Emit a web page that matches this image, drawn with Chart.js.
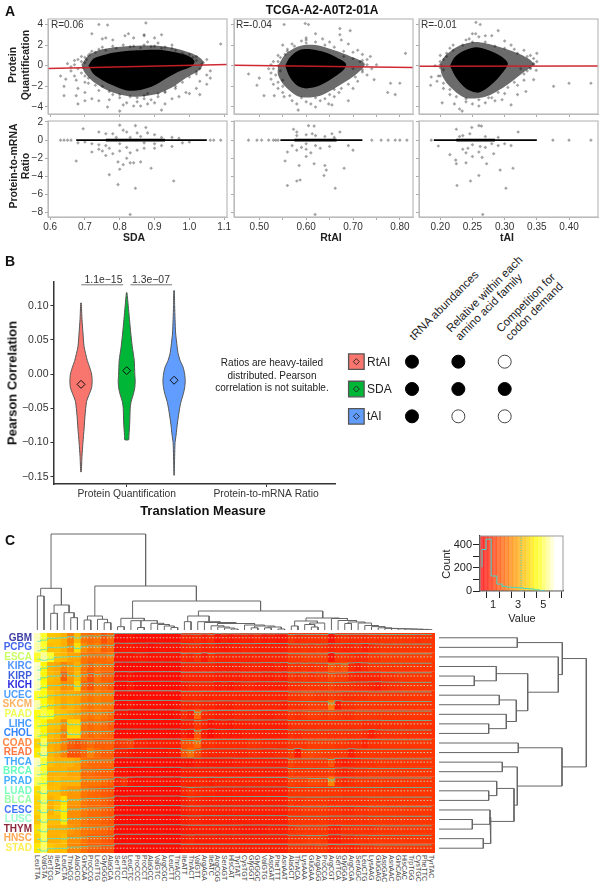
<!DOCTYPE html>
<html>
<head>
<meta charset="utf-8">
<title>TCGA-A2-A0T2-01A</title>
<script src="https://cdn.jsdelivr.net/npm/chart.js@4"></script>
<style>
  html, body { margin: 0; padding: 0; background: #fff; }
  #page { position: relative; width: 600px; height: 886px; overflow: hidden; font-family: "Liberation Sans", Arial, sans-serif; color: #222; }
  #page canvas { position: absolute; }
  .t { position: absolute; white-space: nowrap; line-height: 1; }
</style>
</head>
<body>
<div id="page"></div>
<script>
// panel A, protein quantification: dense cloud outlines and the sparse points around them
const sdaTopCore = [[.71,0],[.725,.7],[.76,1.1],[.8,1.35],[.85,1.5],[.91,1.55],[.96,1.3],[1,.9],[1.015,.4],[1.005,-.1],[.97,-.55],[.94,-1.1],[.9,-1.9],[.86,-2.35],[.82,-2.4],[.78,-1.9],[.75,-1.4],[.725,-.8]];
const sdaTopHaze = [[.69,.1],[.71,1],[.75,1.6],[.82,1.9],[.9,1.95],[.97,1.6],[1.02,1],[1.04,.4],[1.03,-.4],[.99,-1.2],[.95,-2.1],[.9,-2.8],[.84,-3],[.78,-2.6],[.73,-1.7],[.7,-.7]];
const sdaTopPoints = [[.74,4],[.765,3.95],[.875,4.15],[.72,3.1],[.815,2.9],[.825,3.1],[.84,2.7],[.87,2.9],[.92,3],[.87,3],[.9,2.7],[.76,2.7],[.75,2.6],[1.09,2.1],[.95,2],[.88,2.3],[.91,2.2],[.78,2.5],[.8,-4.4],[.92,-4.3],[.765,-4],[.86,-3.9],[.84,-3.9],[.81,-3.8],[.88,-3.7],[.9,-3.6],[.93,-3.7],[.68,-3.7],[.64,-2.9],[.675,-2.9],[.7,-3.4],[.72,-3.2],[.74,-3.4],[.77,-3.3],[.8,-3.1],[.82,-3.6],[.85,-3.5],[.87,-3.2],[.89,-3.3],[.91,-3],[.95,-3.2],[.97,-3],[1,-2.7],[1.03,-2.8],[.99,-2.6],[.74,-2.4],[.7,-2.6],[.68,-2.2],[.64,-2],[.63,-1],[.645,-1.3],[.66,-.5],[.675,-1.4],[.7,-1.6],[.71,-1.2],[1.02,-2.2],[1.05,-1.8],[1.06,-1.2],[1.05,-.9],[1.03,-1.5],[1.02,-.8],[1.06,-.5],[1.04,.3],[1.05,.6],[1.02,.5],[.65,.2],[.67,.1],[.69,.4],[.7,.8],[.68,-.3],[.71,1],[.72,1.4],[.74,1.6],[.75,1.8],[.78,1.9],[.81,2],[.84,1.9],[.87,2],[.9,1.9],[.93,1.8],[.96,1.5],[.98,1.2],[1,1.1],[1.01,.8],[.75,-2],[.78,-2.8],[.83,-3],[.88,-2.7],[.93,-2.5],[.96,-2.2],[.7,.3],[.695,-.2],[.705,.6],[.715,1.15],[.73,1.3],[.76,1.5],[.79,1.7],[.83,1.85],[.86,1.75],[.89,1.85],[.92,1.7],[.95,1.7],[.985,1],[1.02,.9],[1.035,.15],[1.03,-.3],[1.02,-.6],[1,-1.1],[.98,-1.6],[.96,-2],[.93,-2.6],[.91,-2.7],[.87,-2.9],[.85,-3.1],[.8,-2.8],[.77,-2.5],[.73,-1.9],[.71,-1.7],[.7,-1],[.69,-.7],[.69,.9],[.68,.6],[.67,.5],[.66,-.1],[.67,-1]];
const rtaiTopCore = [[.555,0],[.565,.8],[.585,1.5],[.61,1.6],[.64,1.3],[.665,.8],[.685,.2],[.68,-.4],[.66,-1.1],[.63,-1.9],[.6,-2.2],[.58,-1.9],[.565,-1.1]];
const rtaiTopHaze = [[.54,0],[.555,1.1],[.585,1.9],[.62,2],[.66,1.5],[.695,.9],[.725,.2],[.71,-.7],[.675,-1.8],[.63,-2.9],[.585,-3],[.555,-2],[.54,-.9]];
const rtaiTopPoints = [[.553,4],[.598,4.1],[.605,4],[.672,3.6],[.694,3.4],[.672,3],[.62,3.1],[.812,1.2],[.737,.9],[.71,1.5],[.69,2.1],[.675,2.5],[.774,-2.6],[.79,-2.8],[.8,-1.7],[.78,-1.7],[.745,-1.35],[.69,-3.4],[.655,-3.8],[.648,-3.7],[.61,-3.7],[.583,-4.3],[.477,-.8],[.51,-2.9],[.495,-1.9],[.5,-1.2],[.532,-2.9],[.553,-3],[.525,-1.3],[.54,0],[.52,-.3],[.55,2],[.57,2.1],[.54,1],[.55,-1.4],[.6,2.7],[.59,2.4],[.635,2.6],[.65,2.3],[.7,1.3],[.72,1.1],[.73,.6],[.75,.1],[.74,-.3],[.73,-.9],[.71,-1.5],[.7,-2.2],[.67,-2.6],[.66,-3],[.63,-3.4],[.6,-3.5],[.57,-3.4],[.55,-2.6],[.54,-2.2],[.53,-1.8],[.525,-.7],[.53,.4],[.56,1.6],[.58,-3.7],[.62,-4],[.64,-3.2],[.715,.4],[.72,-.4],[.525,.1],[.54,.4],[.545,.8],[.56,1.4],[.575,1.9],[.6,2.2],[.62,2.3],[.64,2],[.66,1.8],[.68,1.4],[.7,.7],[.72,.5],[.73,.1],[.72,-.6],[.705,-1.1],[.69,-1.8],[.675,-2.2],[.65,-2.8],[.62,-3.1],[.59,-3.1],[.565,-2.9],[.55,-2],[.54,-1.6],[.535,-.9],[.53,-.3],[.545,-.5],[.555,1.1],[.66,-2.3],[.6,2.5],[.68,.9],[.7,-.3]];
const taiTopCore = [[.215,0],[.222,.8],[.235,1.4],[.255,1.8],[.275,1.5],[.295,.9],[.305,.2],[.295,-.8],[.28,-1.8],[.26,-2.6],[.24,-2.2],[.225,-1.2]];
const taiTopHaze = [[.2,.2],[.208,1],[.228,1.9],[.255,2.3],[.288,1.9],[.325,1.1],[.345,.2],[.33,-.6],[.298,-2.1],[.27,-3],[.238,-3.1],[.213,-1.9],[.202,-.8]];
const taiTopPoints = [[.2555,4.2],[.262,4],[.29,3.4],[.25,3.1],[.255,3.1],[.27,2.9],[.28,2.9],[.245,2.6],[.24,2.5],[.35,1.2],[.345,.7],[.34,-.3],[.349,-.45],[.345,-1.35],[.376,-2],[.4,-1.7],[.434,-1.7],[.333,-2.5],[.31,-3.8],[.296,-3.3],[.285,-3.4],[.234,-4.4],[.23,-4.2],[.222,-3.7],[.203,-3.6],[.185,-1.9],[.192,0],[.186,-1.1],[.197,-1],[.2,.4],[.21,1.2],[.22,2],[.3,2.4],[.31,2],[.26,2.8],[.33,1.5],[.34,1],[.35,.4],[.33,-1.4],[.32,-1.9],[.3,-2.7],[.27,-3.6],[.25,-3.7],[.24,-3.5],[.215,-2.8],[.205,-2.2],[.195,-1.5],[.2,1],[.215,1.7],[.32,-2.8],[.26,-3.9],[.28,-3.1],[.345,.2],[.335,-.5],[.2,.1],[.205,.6],[.21,.9],[.22,1.5],[.235,2],[.25,2.3],[.27,2.3],[.285,1.9],[.3,1.7],[.32,1.2],[.335,.9],[.345,.1],[.34,-.2],[.33,-.8],[.315,-1.6],[.305,-2.1],[.29,-2.6],[.275,-3.1],[.26,-3.3],[.24,-3.2],[.225,-3],[.215,-2.3],[.205,-1.7],[.2,-1],[.205,-.4],[.2,-.2],[.315,1.6],[.325,-.3]];

// panel A, protein-to-mRNA ratio: most genes sit on zero, the rest are single points
const sdaZeroRun = [[.675,0],[1.05,0]];
const sdaZeroDense = [[.76,0],[.93,0]];
const sdaBottomPoints = [[.695,1.25],[.8,1.65],[.845,1.6],[.875,1.4],[.81,1.1],[.82,.9],[.74,.9],[.76,.7],[.78,.7],[.85,.8],[.88,.8],[.9,.6],[.92,.3],[.95,.3],[.97,.2],[.68,-.3],[.7,-.2],[.72,-.4],[.74,-.5],[.76,-.6],[.77,-.9],[.75,-1.2],[.72,-1.3],[.74,-1],[.78,-1.5],[.76,-1.7],[.8,-1.2],[.82,-.8],[.83,-1.4],[.85,-1.1],[.87,-.9],[.9,-.9],[.92,-.6],[.95,-.7],[.82,-2],[.83,-2.5],[.84,-2.5],[.81,-2.7],[.86,-2.4],[.795,-2.4],[.8,-3.2],[.89,-3.1],[.77,-3.8],[.795,-4.9],[.955,-4.5],[.845,-5.3],[.83,-8.2],[.675,-2.3],[.64,0],[.63,0],[.65,0],[.66,0],[1.06,0],[1.07,0],[1.09,0],[.98,-.3],[1,-.2],[.79,.3],[.83,.3],[.86,.4],[.8,-.4],[.87,-.3],[.9,-.4]];
const rtaiZeroRun = [[.545,0],[.72,0]];
const rtaiZeroDense = [[.575,0],[.665,0]];
const rtaiBottomPoints = [[.477,0],[.495,0],[.505,0],[.52,0],[.53,0],[.535,0],[.54,0],[.573,1.2],[.58,.9],[.56,-1.3],[.555,-2.3],[.56,-5],[.58,-4.5],[.585,-2.8],[.605,1.6],[.617,1.55],[.613,.7],[.672,.9],[.655,.7],[.638,-3.9],[.643,-3.3],[.64,-2.8],[.681,-3.1],[.662,-5.3],[.619,-8.2],[.617,-2.6],[.6,-1.8],[.587,-4.4],[.7,-1.1],[.69,-.6],[.76,0],[.775,0],[.79,0],[.8,0],[.815,0],[.74,0],[.6,-.4],[.62,-.6],[.6,-1],[.59,-.8],[.63,-.9],[.65,-.7],[.61,-1.4],[.57,-.6],[.58,-1.1],[.64,.4],[.62,.5],[.6,.6],[.66,.3],[.58,.5]];
const taiZeroRun = [[.19,0],[.35,0]];
const taiZeroDense = [[.225,0],[.285,0]];
const taiBottomPoints = [[.225,1.2],[.249,1.4],[.26,1.6],[.264,1.55],[.321,.9],[.246,.7],[.23,.4],[.215,-1.6],[.197,-.65],[.225,-2.6],[.24,-2.5],[.224,-2.2],[.26,-3.9],[.226,-5],[.247,-4.5],[.293,-3.3],[.313,-3.1],[.302,-5.3],[.266,-8.2],[.272,-2.6],[.25,-1.8],[.26,-1.3],[.283,-1.5],[.243,-.9],[.262,-.7],[.29,-.6],[.31,-.6],[.186,0],[.375,0],[.4,0],[.434,0],[.235,-1],[.25,-.5],[.27,-.8],[.28,-.4],[.3,-.4],[.235,.5],[.27,.4],[.29,.3],[.24,-1.4],[.265,-1.9]];

const sdaFit = [[.594,-.27],[1.108,.12]];
const rtaiFit = [[.446,.05],[.828,-.17]];
const taiFit = [[.167,-.04],[.445,-.02]];

const sdaTicks = [.6,.7,.8,.9,1,1.1];
const sdaLabelled = [.6,.7,.8,.9,1,1.1];
const rtaiTicks = [.5,.55,.6,.65,.7,.75,.8];
const rtaiLabelled = [.5,.6,.7,.8];
const taiTicks = [.2,.25,.3,.35,.4];
const taiLabelled = [.2,.25,.3,.35,.4];
const quantTicks = [-4,-2,0,2,4];
const ratioTicks = [-8,-6,-4,-2,0,2];

// panel B, violins: y levels and half widths along the category axis
const rtaiLevels = [.104,.08,.06,.04,.02,.01,0,-.01,-.02,-.03,-.04,-.06,-.08,-.1,-.12,-.143];
const rtaiWidths = [.002,.007,.014,.022,.045,.062,.076,.08,.076,.058,.04,.029,.022,.014,.007,.002];
const sdaLevels = [.119,.1,.08,.06,.04,.02,0,-.01,-.02,-.03,-.04,-.05,-.07,-.09,-.096];
const sdaWidths = [.002,.011,.02,.029,.04,.054,.058,.061,.058,.047,.032,.025,.022,.016,.014];
const taiLevels = [.122,.1,.08,.06,.04,.03,.02,.01,0,-.01,-.02,-.03,-.04,-.05,-.07,-.09,-.1,-.12,-.148];
const taiWidths = [.002,.004,.007,.011,.022,.029,.043,.065,.076,.08,.076,.065,.05,.04,.025,.014,.007,.004,.001];
const violinNames = ["RtAI","SDA","tAI"];
const violinColors = ["#F8766D","#00B636","#619CFF"];
const violinCentres = [.672,1,1.34];
const violinMeans = [-.015,.005,-.009];
const pearsonTicks = [-.15,-.1,-.05,0,.05,.1];
const measureNames = ["Protein Quantification","Protein-to-mRNA Ratio"];
const bracketRuns = [[[.674,.1305],[.974,.1305]],[[1.027,.1305],[1.325,.1305]]];

// panel B, table of index properties (1 = has it)
const rtaiFlags = [1,1,0];
const sdaFlags = [1,1,1];
const taiFlags = [1,0,0];

// panel C
const tumours = ["GBM","PCPG","ESCA","KIRC","KIRP","KICH","UCEC","SKCM","PAAD","LIHC","CHOL","COAD","READ","THCA","BRCA","PRAD","LUAD","BLCA","CESC","LUSC","THYM","HNSC","STAD"];
const tumourColors = ["#3C3CA6","#4466EE","#CCFF66","#4D94FF","#3D5DDD","#2A2AE0","#4D9FFF","#FFB060","#EEFF55","#4499FF","#3385FF","#FF8844","#FF7744","#44AAFF","#66FFBB","#44B0FF","#77FFBB","#99FFAA","#4477FF","#99FFCC","#8B2A3A","#FFAA55","#FFEE55"];
const codons = ["LeuTTA","ValGTA","SerTCG","IleATA","LeuCTA","ThrACG","AlaGCG","GlnCAA","ProCCG","LeuTTG","GlyGGG","AlaGCA","SerTCC","SerTCT","LeuCTC","ProCCC","ProCCT","AlaGCC","ValGTC","ArgCGC","LeuCTT","ThrACC","IleATT","ThrACT","ValGTT","ArgAGA","IleATC","ArgCGG","SerAGT","HisCAT","TyrTAT","CysTGT","GlyGGT","GlyGGC","ValGTG","AspGAT","PheTTT","AsnAAT","AlaGCT","ThrACA","LysAAA","GluGAA","ArgAGG","ProCCA","ArgCGT","SerTCA","GlyGGA","ArgCGA","SerAGC","LeuCTG","LysAAG","GluGAG","AspGAC","AsnAAC","GlnCAG","HisCAC","TrpTGG","CysTGC","PheTTC","TyrTAC"];
const heatRows = [
  [5.6,4.8,3.6,3.5,3.2,2.4,3.4,2.2,2.0,2.2,1.6,2.0, .4,.4,.5,.4,.4,.4,.4,.4,.4,.4, .8,.8,.9,.7,.9,.5,.7,.6,.7,.8,.7,.8,.6,.7,.6,.6, 1.1,.9,1.0,1.0,1.0,1.1,.5,.9,1.0,.9,.9,.9,1.0,1.0,1.1,1.1,1.1,1.1,1.1,1.0,1.1,1.1],
  [5.5,4.8,3.4,3.5,3.2,2.6,4.0,2.6,2.2,2.4,1.8,2.0, .5,.6,.6,.5,.5,.4,.5,.5,.5,.5, .8,.9,.9,.7,.8,.7,.6,.7,.7,.8,.8,.7,.7,.7,.7,.7, 1.0,1.0,1.1,1.0,1.1,1.0,.8,.9,.8,.8,.9,.7,.9,1.0,1.1,1.1,1.1,1.1,1.1,1.1,1.1,1.1],
  [4.8,5.4,4.8,3.5,3.3,3.0,3.0,2.2,2.0,2.0,2.0,2.2, .5,.5,.5,.6,.6,.5,.5,.5,.5,.5, .9,.8,1.0,.6,1.0,.8,.8,.8,.8,.8,.8,.8,.8,.8,.8,.8, 1.1,1.1,1.2,1.2,1.2,1.2,.5,1.1,1.1,1.0,.9,.9,1.1,1.1,1.2,1.2,1.2,1.2,1.2,1.2,1.2,1.2],
  [5.7,4.4,3.2,3.0,2.4,2.8,3.2,2.2,1.8,2.2,2.0,2.0, .4,.4,.4,.4,.4,.4,.4,.4,.4,.4, .8,.8,.8,.8,.8,.7,.7,.7,.7,.8,.8,.8,.7,.7,.8,.7, 1.1,1.0,1.1,1.0,1.1,1.1,1.6,1.4,1.6,.9,.7,.9,1.1,1.1,1.1,1.1,1.1,1.1,1.1,1.1,1.1,1.1],
  [5.7,4.4,3.4,3.2,1.8,2.8,3.4,2.2,1.6,2.2,1.8,1.8, .4,.4,.5,.4,.4,.4,.4,.4,.4,.4, .8,.8,.8,.8,.8,.7,.7,.7,.7,.8,.8,.8,.7,.7,.8,.7, 1.1,1.0,1.1,1.0,1.1,1.1,1.4,1.2,1.2,.9,.8,.8,.8,.8,1.0,1.0,1.1,1.1,1.1,1.1,1.1,1.1],
  [5.6,4.6,3.3,3.2,2.6,2.8,3.8,2.0,1.6,2.2,2.0,1.8, .4,.4,.6,.4,.4,.4,.4,.4,.4,.4, .7,.8,.8,.8,.8,.6,.7,.6,.7,.8,.8,.7,.7,.7,.7,.7, 1.0,1.0,1.1,1.1,1.1,1.1,1.3,1.1,1.1,1.0,.9,.9,.8,.7,.9,1.0,1.0,1.1,1.1,1.1,1.1,1.1],
  [4.8,4.6,3.6,3.3,3.0,3.1,3.0,2.4,2.2,2.4,2.2,2.2, .4,.4,.4,.4,.4,.4,.4,.4,.4,.4, .9,.9,.9,.8,.8,.8,.8,.8,.8,.8,.8,.8,.8,.8,.8,.8, 1.1,1.1,1.2,1.2,1.1,1.1,1.2,1.1,1.0,1.0,1.0,1.0,1.1,1.1,1.1,1.1,1.1,1.1,1.1,1.1,1.1,1.1],
  [5.5,4.6,3.8,3.4,3.0,3.2,3.0,2.4,2.2,2.4,2.2,2.2, .4,.4,.5,.4,.4,.4,.4,.4,.4,.5, .8,.8,.9,.8,.8,.7,.7,.7,.8,.8,.8,.8,.8,.8,.8,.7, 1.0,1.0,1.1,1.2,1.2,1.2,2.2,.6,1.0,1.0,1.1,1.1,1.1,1.1,1.1,1.1,1.1,1.1,1.1,1.1,1.1,1.1],
  [4.6,4.9,4.6,3.6,3.4,3.2,3.0,2.4,2.2,2.4,2.2,2.0, .5,.5,.4,.4,.4,.4,.4,.4,.4,.5, .9,.7,1.9,.9,.8,.7,.7,.7,.8,.8,.8,.8,.7,.7,.8,.8, 1.1,1.0,1.1,1.2,1.2,1.1,1.2,1.1,1.0,1.0,1.1,1.1,1.1,1.1,1.1,1.1,1.1,1.1,1.1,1.1,1.1,1.1],
  [4.8,4.4,3.5,3.4,2.6,3.8,3.8,2.2,2.0,2.2,2.0,1.8, .4,.4,.4,.4,.4,.4,.4,.4,.4,.4, .7,.7,1.1,.8,.5,.6,.7,.6,.7,.7,.7,.7,.7,.7,.7,.7, 1.0,1.0,1.0,1.0,1.0,1.0,1.0,1.0,1.0,1.0,1.0,.9,.9,.9,1.0,1.0,1.0,1.0,1.0,1.0,1.0,1.0],
  [5.0,4.4,3.4,3.2,2.4,3.9,3.9,2.2,2.0,2.2,2.0,1.9, .4,.4,.4,.4,.4,.4,.4,.4,.4,.4, .7,.5,1.6,.7,.4,.6,.7,.6,.6,.7,.7,.7,.7,.7,.7,.7, 1.0,.9,1.0,1.0,1.0,1.0,1.0,1.0,1.0,1.0,1.0,.9,.7,.9,1.0,1.0,1.0,1.0,1.0,1.0,1.0,1.0],
  [3.8,5.0,3.2,3.0,2.4,1.8,1.6,1.8,2.0,1.8,1.8,1.8, 1.1,1.2,1.3,.8,.8,.7,.7,.7,.7,.7, 1.5,1.6,2.0,1.0,1.0,.9,.9,.9,.9,.9,1.0,1.0,.9,.9,.9,.9, 1.1,1.1,1.1,1.2,1.2,1.2,1.2,1.1,1.1,1.0,1.0,.8,1.0,1.0,1.1,1.1,1.1,1.1,1.1,1.1,1.1,1.1],
  [4.2,5.2,3.3,3.0,2.4,1.6,1.6,1.9,2.4,2.0,1.8,1.8, .7,.7,.6,.5,.5,.5,.5,.5,.6,.6, 1.6,2.0,1.4,.9,.8,.8,.8,.8,.8,.8,.9,.9,.8,.8,.9,.9, 1.2,.6,1.3,1.4,1.3,1.2,1.2,1.1,1.1,.7,1.0,1.1,1.1,1.1,1.1,1.1,1.1,1.1,1.1,1.1,1.1,1.1],
  [5.6,4.8,3.4,3.2,3.2,3.2,3.0,2.2,2.0,2.0,1.9,1.9, .4,.4,.4,.4,.4,.4,.4,.4,.4,.4, .5,.5,.7,.6,.6,.6,.6,.6,.7,.7,.7,.7,.7,.7,.7,.7, 1.3,1.1,1.1,1.1,1.1,1.1,1.5,.8,.7,.8,.9,1.0,1.0,1.1,1.1,1.1,1.1,1.1,1.1,1.1,1.1,1.1],
  [5.3,4.8,3.2,3.2,3.2,3.0,3.0,2.0,2.0,1.9,1.8,1.8, .5,.5,.4,.4,.4,.4,.4,.4,.4,.4, .7,.7,.7,.7,.7,.7,.7,.7,.7,.7,.7,.7,.7,.7,.7,.7, 1.2,1.1,1.1,1.1,1.1,1.1,1.2,.9,.8,.9,1.0,1.0,1.1,1.1,1.1,1.1,1.1,1.1,1.1,1.1,1.1,1.1],
  [5.0,4.8,3.3,3.4,3.2,3.2,3.2,2.2,2.2,2.2,2.0,1.8, .8,1.0,.6,.5,.5,.5,.5,.5,.5,.5, .8,.8,.8,.8,.7,.8,.8,.8,.8,.8,.8,.8,.8,.8,.8,.8, 1.3,1.2,1.2,1.4,1.4,1.3,2.4,1.0,.9,1.0,1.1,1.1,1.1,1.1,1.1,1.1,1.1,1.1,1.1,1.1,1.1,1.1],
  [4.0,5.0,3.4,3.4,3.0,2.8,2.8,2.2,2.0,1.9,1.7,1.6, .4,.4,.4,.4,.4,.4,.4,.4,.4,.4, .8,1.0,.9,.8,.8,.7,.7,.7,.7,.7,.7,.7,.7,.7,.7,.7, 1.1,1.1,1.1,1.1,1.1,1.1,1.1,1.1,1.0,1.0,1.0,1.1,1.1,1.1,1.1,1.1,1.1,1.1,1.1,1.1,1.1,1.1],
  [3.8,5.0,3.2,3.4,4.0,2.8,2.8,2.2,2.0,2.0,1.8,1.6, .4,.5,.4,.4,.4,.4,.4,.4,.4,.4, .7,.9,.8,.7,.7,.7,.7,.7,.7,.7,.7,.7,.7,.7,.7,.7, 1.1,1.0,1.1,1.1,1.1,1.1,1.0,1.0,1.0,1.0,1.0,1.0,1.1,1.1,1.1,1.1,1.1,1.1,1.1,1.1,1.1,1.1],
  [3.8,5.0,3.2,3.6,4.2,2.6,2.6,2.2,2.0,2.0,1.8,1.7, .4,.4,.4,.4,.4,.4,.4,.4,.4,.4, .7,.8,.8,.7,.7,.7,.7,.7,.7,.7,.7,.7,.7,.7,.7,.7, 1.0,1.0,1.1,1.1,1.1,1.1,1.0,1.0,.9,.9,1.0,1.0,1.1,1.1,1.1,1.1,1.1,1.1,1.1,1.1,1.1,1.1],
  [3.6,5.0,3.4,3.4,4.2,2.6,2.6,2.2,2.0,2.0,1.8,1.7, .4,.4,.4,.4,.4,.4,.4,.4,.4,.4, .7,.8,.8,.7,.7,.7,.7,.7,.7,.7,.7,.7,.7,.7,.7,.7, 1.1,1.1,1.1,1.1,1.1,1.1,1.0,1.0,1.0,1.0,1.0,1.0,1.1,1.1,1.1,1.1,1.1,1.1,1.1,1.1,1.1,1.1],
  [4.0,5.0,3.2,3.2,3.2,2.8,2.6,2.2,2.1,2.0,1.9,1.7, .4,.4,.4,.4,.4,.4,.4,.4,.4,.4, .6,.7,.7,.7,.7,.7,.7,.7,.7,.6,.6,.6,.6,.7,.7,.7, 1.0,1.1,1.1,1.1,1.1,1.1,.8,.8,1.0,1.0,1.0,1.0,1.0,1.1,1.1,1.1,1.1,1.1,1.1,1.1,1.1,1.1],
  [3.8,5.0,3.2,3.2,3.4,2.6,2.6,2.2,1.9,1.9,1.7,1.6, .4,.4,.4,.4,.4,.4,.4,.4,.4,.4, .7,.8,.7,.7,.7,.7,.7,.7,.7,.7,.7,.7,.7,.7,.7,.7, 1.0,1.0,1.1,1.2,1.2,1.1,.7,.7,.9,.9,1.0,1.0,1.1,1.1,1.1,1.1,1.1,1.1,1.1,1.1,1.1,1.1],
  [4.2,5.1,3.6,3.4,3.4,2.5,2.5,2.1,1.8,1.8,1.6,1.6, .4,.4,.4,.4,.4,.4,.4,.4,.4,.4, .7,.7,.7,.7,.7,.7,.7,.7,.7,.7,.7,.7,.7,.7,.7,.7, 1.0,1.0,1.0,1.0,1.1,1.1,.8,.9,.9,.8,.9,1.0,1.0,1.1,1.1,1.1,1.1,1.1,1.1,1.1,1.1,1.1]
];
const heatFloor = .2;
const heatCeil = 6;
const traceFloor = .1;
const traceCeil = 6.4;
const medianBreak = 3.24;

// colour key and histogram
const keyBands = [.1,.43,.76,1.09,1.42,1.75,2.08,2.41,2.74,3.07,3.4,3.73,4.06,4.39,4.72,5.05,5.38,5.71,6.04,6.37];
const keyHeight = 477;
const histBreaks = [.12,.44,.85,1.3,1.72,2.12,2.55,2.98,3.41,3.84,4.27,4.7,5.13];
const histCounts = [205,360,450,130,60,40,33,30,28,22,18,10,5];
const histTicks = [1,2,3,4,5,6];
const histLabelled = [1,3,5];
const countTicks = [0,100,200,300,400];
const countLabelled = [0,200,400];

// dendrograms: [first child position, its height, second child position, its height, merge height]
const columnTree = [[0,0,1,0,34],[2,0,3,0,16.7],[5,0,6,0,12.3],[4,0,5.5,12.3,17.3],[2.5,16.7,4.75,17.3,25],[.5,34,3.6,25,41.7],
  [7,0,8,0,10],[10,0,11,0,7.3],[9,0,10.5,7.3,10.7],[7.5,10,9.75,10.7,14],
  [12,0,13,0,3.3],[15,0,16,0,2.5],[20,0,21,0,2.5],[19,0,20.5,2.5,4],[18,0,19.75,4,5.5],[17,0,18.9,5.5,6.7],[14,0,17.95,6.7,9.3],[15.5,2.5,15.5,2.5,9.3],[12.5,3.3,16,9.3,11.7],
  [22,0,23,0,8.3],[29,0,30,0,1],[28,0,29.5,1,2],[27,0,28.75,2,3],[26,0,27.9,3,4.2],[32,0,33,0,2.2],[34,0,35,0,2.2],[36,0,37,0,1],[34.5,2.2,36.5,1,3],[32.5,2.2,35.5,3,4],[31,0,34,4,5],[26.95,4.2,32.5,5,6.5],[25,0,29.7,6.5,7.5],[24,0,27.35,7.5,8.3],[22.5,8.3,25.7,8.3,14],
  [58,0,59,0,.4],[57,0,58.5,.4,.6],[56,0,57.75,.6,.8],[55,0,56.9,.8,1],[54,0,55.9,1,1.2],[53,0,55,1.2,1.4],[52,0,54,1.4,1.6],[51,0,53,1.6,2.2],[50,0,52,2.2,3.4],[49,0,51,3.4,4.5],[48,0,50,4.5,7],[46,0,47,0,6.5],[46.5,6.5,49,7,8],[45,0,47.75,8,9.5],[44,0,46.4,9.5,11.5],
  [38,0,39,0,4],[41,0,42,0,3],[40,0,41.5,3,5.5],[43,0,40.75,5.5,7],[38.5,4,41.9,7,9],[40.2,9,45.2,11.5,12],
  [24.1,14,42.7,12,19],[14.25,11.7,33.4,19,29],[8.6,14,23.8,29,44],[2.05,41.7,16.2,44,96]];
const rowTree = [[0,0,1,0,78.3],[4,0,5,0,35.3],[3,0,4.5,35.3,57.3],[6,0,7,0,60.3],[9,0,10,0,49.7],[8,0,9.5,49.7,67.3],[6.5,60.3,8.75,67.3,77.3],[3.75,57.3,7.63,77.3,88.7],[2,0,5.69,88.7,119.3],[.5,78.3,3.85,119.3,123.3],
  [11,0,12,0,79.3],[13,0,14,0,63.3],[16,0,17,0,49.7],[15,0,16.5,49.7,57.7],[19,0,20,0,33.3],[21,0,22,0,44.3],[18,0,19.5,33.3,51],[18.75,51,21.5,44.3,51.7],[15.75,57.7,19.2,51.7,75],[13.5,63.3,17.5,75,78.3],[11.5,79.3,15.5,78.3,123],[2.17,123.3,13.5,123,147.3]];

Chart.defaults.font.family = '"Liberation Sans", Arial, sans-serif';
Chart.defaults.color = "#333";
Chart.defaults.animation = false;
Chart.defaults.responsive = false;
Chart.defaults.plugins.legend.display = false;
Chart.defaults.plugins.tooltip.enabled = false;

const page = document.getElementById("page");

const addText = (text, x, y, css) => {
  const el = document.createElement("div");
  el.className = "t";
  el.textContent = text;
  el.style.cssText = "left:" + x + "px;top:" + y + "px;" + (css || "");
  page.appendChild(el);
  return el;
};
// centred on x,y
const centreText = (text, x, y, css, rot) => addText(text, x, y, "transform:translate(-50%,-50%)" + (rot ? " rotate(" + rot + "deg);" : ";") + (css || ""));

// plot area is kept exactly at rect, the margins only hold ticks and labels
const place = (rect, margin, config) => {
  const cv = document.createElement("canvas");
  cv.width = rect.w + margin.l + margin.r;
  cv.height = rect.h + margin.t + margin.b;
  cv.style.left = rect.x - margin.l + "px";
  cv.style.top = rect.y - margin.t + "px";
  page.appendChild(cv);
  config.options.layout = { autoPadding: false, padding: { top: margin.t, right: margin.r, left: 0, bottom: 0 } };
  return new Chart(cv, config);
};

const fixWidth = w => s => { s.width = w; s.paddingTop = 0; s.paddingBottom = 0; s.paddingLeft = 0; s.paddingRight = 0; };
const fixHeight = h => s => { s.height = h; s.paddingTop = 0; s.paddingBottom = 0; s.paddingLeft = 0; s.paddingRight = 0; };
const setTicks = list => s => { s.ticks = list.map(v => ({ value: v })); };

const frame = (color, width) => ({
  id: "frame",
  afterDatasetsDraw(chart) {
    const a = chart.chartArea, ctx = chart.ctx;
    ctx.save();
    ctx.strokeStyle = color;
    ctx.lineWidth = width;
    ctx.strokeRect(a.left, a.top, a.right - a.left, a.bottom - a.top);
    ctx.restore();
  }
});

const toXY = pairs => pairs.map(p => ({ x: p[0], y: p[1] }));
const polygon = (pairs, color) => ({ data: toXY(pairs.concat([pairs[0]])), showLine: true, fill: "shape", backgroundColor: color, borderColor: color, borderWidth: 0, pointRadius: 0, tension: .3 });
const dots = (pairs) => ({ data: toXY(pairs), pointStyle: "rectRot", pointRadius: 1.8, pointBackgroundColor: "rgba(0,0,0,.36)", pointBorderWidth: 0 });
const segment = (pairs, color, w) => ({ data: toXY(pairs), showLine: true, borderColor: color, borderWidth: w, pointRadius: 0 });

// the first dataset in the list ends up on top
const scatterPanel = (rect, margin, xr, yr, xTicks, xLab, yTicks, showX, showY, decimals, sets) => place(rect, margin, {
  type: "scatter",
  data: { datasets: sets },
  options: {
    scales: {
      x: {
        type: "linear", min: xr[0], max: xr[1], afterBuildTicks: setTicks(xTicks), afterFit: fixHeight(margin.b),
        grid: { drawOnChartArea: false, tickLength: 3, color: "#aaa" }, border: { color: "#bbb" },
        ticks: { display: showX, autoSkip: false, maxRotation: 0, padding: 1, font: { size: 10 }, callback: v => xLab.includes(v) ? v.toFixed(decimals) : "" }
      },
      y: {
        type: "linear", min: yr[0], max: yr[1], afterBuildTicks: setTicks(yTicks), afterFit: fixWidth(margin.l),
        grid: { drawOnChartArea: false, tickLength: 3, color: "#aaa" }, border: { color: "#bbb" },
        ticks: { display: showY, autoSkip: false, padding: 2, font: { size: 10 }, callback: v => String(v).replace("-", "\u2212") }
      }
    }
  },
  plugins: [frame("#bbb", 1.2)]
});

// panel A
const topY = [-4.68, 4.53], botY = [-8.47, 2.11];
const sdaX = [.594, 1.108], rtaiX = [.446, .828], taiX = [.167, .445];
const red = "rgba(204,30,40,.95)";
const hazeGrey = "rgba(0,0,0,.58)";
scatterPanel({ x: 48, y: 18.5, w: 179, h: 95.5 }, { l: 48, r: 3, t: 6, b: 4 }, sdaX, topY, sdaTicks, sdaLabelled, quantTicks, false, true, 1,
  [segment(sdaFit, red, 1.5), dots(sdaTopPoints), polygon(sdaTopCore, "#000"), polygon(sdaTopHaze, hazeGrey)]);
scatterPanel({ x: 233.5, y: 18.5, w: 179.5, h: 95.5 }, { l: 5, r: 3, t: 6, b: 4 }, rtaiX, topY, rtaiTicks, rtaiLabelled, quantTicks, false, false, 2,
  [segment(rtaiFit, red, 1.5), dots(rtaiTopPoints), polygon(rtaiTopCore, "#000"), polygon(rtaiTopHaze, hazeGrey)]);
scatterPanel({ x: 419, y: 18.5, w: 179, h: 95.5 }, { l: 5, r: 2, t: 6, b: 4 }, taiX, topY, taiTicks, taiLabelled, quantTicks, false, false, 2,
  [segment(taiFit, red, 1.5), dots(taiTopPoints), polygon(taiTopCore, "#000"), polygon(taiTopHaze, hazeGrey)]);
scatterPanel({ x: 48, y: 121, w: 179, h: 96 }, { l: 48, r: 6, t: 6, b: 16 }, sdaX, botY, sdaTicks, sdaLabelled, ratioTicks, true, true, 1,
  [segment(sdaZeroDense, "#000", 2.6), segment(sdaZeroRun, "#000", 1.6), dots(sdaBottomPoints)]);
scatterPanel({ x: 233.5, y: 121, w: 179.5, h: 96 }, { l: 5, r: 6, t: 6, b: 16 }, rtaiX, botY, rtaiTicks, rtaiLabelled, ratioTicks, true, false, 2,
  [segment(rtaiZeroDense, "#000", 2.6), segment(rtaiZeroRun, "#000", 1.6), dots(rtaiBottomPoints)]);
scatterPanel({ x: 419, y: 121, w: 179, h: 96 }, { l: 5, r: 2, t: 6, b: 16 }, taiX, botY, taiTicks, taiLabelled, ratioTicks, true, false, 2,
  [segment(taiZeroDense, "#000", 2.6), segment(taiZeroRun, "#000", 1.6), dots(taiBottomPoints)]);

const letterCss = "font-weight:bold;font-size:14px;color:#111;";
addText("A", 5, 4, letterCss);
addText("B", 5, 254, letterCss);
addText("C", 5, 533, letterCss);
centreText("TCGA-A2-A0T2-01A", 322, 9.5, "font-weight:bold;font-size:12px;color:#111;");
addText("R=0.06", 51, 20, "font-size:10px;color:#333;");
addText("R=-0.04", 236, 20, "font-size:10px;color:#333;");
addText("R=-0.01", 421, 20, "font-size:10px;color:#333;");
const axisCss = "font-weight:bold;font-size:10.5px;color:#222;";
centreText("Protein", 12, 65, axisCss, -90);
centreText("Quantification", 25, 65, axisCss, -90);
centreText("Protein-to-mRNA", 12.5, 166, axisCss, -90);
centreText("Ratio", 25, 166, axisCss, -90);
centreText("SDA", 134, 237, axisCss);
centreText("RtAI", 331, 237, axisCss);
centreText("tAI", 507, 237, axisCss);

// panel B violins
const violinOutline = (levels, widths, centre) => {
  const right = levels.map((l, i) => [centre + widths[i], l]);
  const left = levels.map((l, i) => [centre - widths[i], l]).reverse();
  return right.concat(left);
};
const violinSets = [[rtaiLevels, rtaiWidths], [sdaLevels, sdaWidths], [taiLevels, taiWidths]].map((v, i) => ({
  label: violinNames[i],
  data: toXY(violinOutline(v[0], v[1], violinCentres[i]).concat([[violinCentres[i] + v[1][0], v[0][0]]])),
  showLine: true, fill: "shape", backgroundColor: violinColors[i], borderColor: "#555", borderWidth: 1, pointRadius: 0, tension: .2
}));
place({ x: 53.5, y: 282, w: 281.5, h: 202.3 }, { l: 53.5, r: 5, t: 3, b: 15 }, {
  type: "scatter",
  data: { datasets: [
    { data: violinCentres.map((c, i) => ({ x: c, y: violinMeans[i] })), pointStyle: "rectRot", pointRadius: 4, pointBackgroundColor: "transparent", pointBorderColor: "#111", pointBorderWidth: 1 },
    segment(bracketRuns[0], "#777", 1), segment(bracketRuns[1], "#777", 1)
  ].concat(violinSets) },
  options: {
    scales: {
      x: {
        type: "linear", min: .4745, max: 2.495, afterBuildTicks: setTicks([1, 2]), afterFit: fixHeight(15),
        grid: { drawOnChartArea: false, tickLength: 3, color: "#333" }, border: { color: "#333", width: 1.5 },
        ticks: { autoSkip: false, maxRotation: 0, padding: 1, color: "#333", font: { size: 10.3 }, callback: v => measureNames[v - 1] }
      },
      y: {
        type: "linear", min: -.1607, max: .1346, afterBuildTicks: setTicks(pearsonTicks), afterFit: fixWidth(53.5),
        grid: { drawOnChartArea: false, tickLength: 3, color: "#333" }, border: { color: "#333", width: 1.5 },
        ticks: { autoSkip: false, padding: 2, color: "#333", font: { size: 10.5 }, callback: v => v.toFixed(2).replace("-", "\u2212") }
      }
    }
  }
});
centreText("1.1e\u221215", 103.5, 279.5, "font-size:10.4px;color:#333;");
centreText("1.3e\u221207", 151, 279.5, "font-size:10.4px;color:#333;");
centreText("Pearson Correlation", 12, 382.7, "font-weight:bold;font-size:13px;color:#111;", -90);
centreText("Translation Measure", 203, 510, "font-weight:bold;font-size:13px;color:#111;");
centreText("Ratios are heavy-tailed", 272, 363, "font-size:10px;color:#222;");
centreText("distributed. Pearson", 272, 375.7, "font-size:10px;color:#222;");
centreText("correlation is not suitable.", 272, 388.2, "font-size:10px;color:#222;");

// panel B table
const flagRows = [rtaiFlags, sdaFlags, taiFlags];
const cells = [];
flagRows.forEach((row, y) => row.forEach((f, x) => cells.push({ x, y, f })));
place({ x: 340, y: 345, w: 180, h: 85 }, { l: 0, r: 0, t: 0, b: 0 }, {
  type: "scatter",
  data: { datasets: [
    { data: violinColors.map((c, y) => ({ x: -1.2, y })), pointStyle: "rectRot", pointRadius: 3, pointBackgroundColor: "transparent", pointBorderColor: "#222", pointBorderWidth: .9 },
    { data: violinColors.map((c, y) => ({ x: -1.2, y })), pointStyle: "rect", pointRadius: 11, pointBackgroundColor: violinColors, pointBorderColor: "#555", pointBorderWidth: 1.3 },
    { data: cells, pointRadius: 6.5, pointBackgroundColor: cells.map(c => c.f ? "#000" : "#fff"), pointBorderColor: cells.map(c => c.f ? "#000" : "#444"), pointBorderWidth: 1 }
  ] },
  options: { scales: {
    x: { type: "linear", display: false, min: -1.553, max: 2.33 },
    y: { type: "linear", display: false, reverse: true, min: -.61, max: 2.5 }
  } }
});
violinNames.forEach((n, i) => addText(n, 367, [355.5, 382.7, 410][i], "font-size:12px;color:#222;"));
const rotCss = "font-size:11.5px;line-height:13px;color:#222;transform-origin:0 100%;transform:rotate(-45deg);";
addText("tRNA abundances", 416, 330, rotCss);
addText("Relative within each", 453, 322, rotCss);
addText("amino acid family", 462, 330, rotCss);
addText("Competition for", 503, 322, rotCss);
addText("codon demand", 512, 330, rotCss);

// panel C heatmap, heat.colors style ramp
const heat = v => {
  const f = Math.min(1, Math.max(0, (v - heatFloor) / (heatCeil - heatFloor)));
  const g = Math.round(255 * Math.min(1, f / .75));
  const b = f > .75 ? Math.round(255 * (f - .75) / .25) : 0;
  return "rgb(255," + g + "," + b + ")";
};
const rowSets = heatRows.map((row, i) => ({
  type: "bar", label: tumours[i], data: row.map(() => 1), backgroundColor: row.map(heat),
  borderColor: row.map(heat), borderWidth: .4, barPercentage: 1, categoryPercentage: 1, yAxisID: "y", order: 3
}));
const dotSets = heatRows.map((row, i) => ({
  type: "line", data: row.map(() => i + (medianBreak - traceFloor) / (traceCeil - traceFloor)), yAxisID: "yRows",
  borderColor: "rgba(190,240,225,.8)", borderWidth: 1, borderDash: [1.6, 1.7], pointRadius: 0, order: 2
}));
const traceSets = heatRows.map((row, i) => ({
  type: "line", data: row.map(v => i + (v - traceFloor) / (traceCeil - traceFloor)), yAxisID: "yRows", stepped: "middle",
  borderColor: "rgba(64,224,208,.72)", borderWidth: 1, pointRadius: 0, order: 1
}));
const heatChart = place({ x: 34, y: 633, w: 401, h: 220 }, { l: 34, r: 0, t: 0, b: 0 }, {
  type: "bar",
  data: { labels: codons, datasets: rowSets.concat(dotSets, traceSets) },
  options: {
    scales: {
      x: { stacked: true, display: false },
      y: {
        stacked: true, reverse: true, min: 0, max: tumours.length, afterBuildTicks: setTicks(tumours.map((t, i) => i + .5)), afterFit: fixWidth(34),
        grid: { display: false, drawTicks: false }, border: { display: false },
        ticks: { autoSkip: false, padding: 2, font: { size: 10, weight: "bold" }, callback: v => tumours[Math.floor(v)], color: c => tumourColors[c.index] }
      },
      yRows: { axis: "y", type: "linear", display: false, reverse: true, min: 0, max: tumours.length }
    }
  }
});
codons.forEach((c, i) => {
  const x = heatChart.scales.x.getPixelForValue(i);
  addText(c, x - 3.5, 855, "writing-mode:vertical-rl;font-size:7px;line-height:7px;color:#444;");
});

// dendrograms
const treeLines = (tree, flip) => {
  const out = [];
  tree.forEach(t => {
    const pts = [[t[0], t[1]], [t[0], t[4]], [t[2], t[4]], [t[2], t[3]]];
    pts.forEach(p => out.push(flip ? { x: p[1], y: p[0] } : { x: p[0], y: p[1] }));
    out.push({ x: NaN, y: NaN });
  });
  return out;
};
place({ x: 34, y: 532, w: 401, h: 98 }, { l: 0, r: 0, t: 0, b: 0 }, {
  type: "scatter",
  data: { datasets: [{ data: treeLines(columnTree, false), showLine: true, spanGaps: false, borderColor: "#666", borderWidth: 1, pointRadius: 0 }] },
  options: { scales: { x: { type: "linear", display: false, min: -.5, max: 59.5 }, y: { type: "linear", display: false, min: 0, max: 98 } } }
});
place({ x: 438.7, y: 633, w: 155, h: 220 }, { l: 0, r: 0, t: 0, b: 0 }, {
  type: "scatter",
  data: { datasets: [{ data: treeLines(rowTree, true), showLine: true, spanGaps: false, borderColor: "#666", borderWidth: 1, pointRadius: 0 }] },
  options: { scales: { x: { type: "linear", display: false, min: 0, max: 155 }, y: { type: "linear", display: false, reverse: true, min: -.5, max: 22.5 } } }
});

// colour key
place({ x: 480.3, y: 535.7, w: 83, h: 55.6 }, { l: 30, r: 4, t: 6, b: 18 }, {
  type: "scatter",
  data: { datasets: [
    { type: "line", data: histBreaks.map((b, i) => ({ x: b, y: histCounts[i] })), stepped: "after", borderColor: "#40D8C8", borderWidth: 1, pointRadius: 0, order: 1 },
    { type: "line", data: [{ x: medianBreak, y: 0 }, { x: medianBreak, y: keyHeight }], borderColor: "#40D8C8", borderWidth: 1, borderDash: [1, 1.5], pointRadius: 0, order: 1 },
    { type: "bar", data: keyBands.map(b => ({ x: b, y: keyHeight })), backgroundColor: keyBands.map(b => heat(b).replace("rgb(", "rgba(").replace(")", ",.72)")), barPercentage: 1, categoryPercentage: 1, order: 3 }
  ] },
  options: {
    scales: {
      x: {
        type: "linear", min: -.04, max: 6.58, afterBuildTicks: setTicks(histTicks), afterFit: fixHeight(18), offset: false,
        grid: { drawOnChartArea: false, tickLength: 7, color: "#222" }, border: { color: "#222", width: 1.2 },
        ticks: { autoSkip: false, maxRotation: 0, padding: 0, color: "#222", font: { size: 11 }, callback: v => histLabelled.includes(v) ? String(v) : "" }
      },
      y: {
        type: "linear", min: 0, max: keyHeight, afterBuildTicks: setTicks(countTicks), afterFit: fixWidth(30),
        grid: { drawOnChartArea: false, tickLength: 7, color: "#222" }, border: { color: "#222", width: 1.2 },
        ticks: { autoSkip: false, padding: 1, color: "#222", font: { size: 11 }, callback: v => countLabelled.includes(v) ? String(v) : "" }
      }
    }
  },
  plugins: [frame("#999", 1)]
});
centreText("Count", 446, 564, "font-size:11px;color:#222;", -90);
centreText("Value", 522, 617.5, "font-size:11px;color:#222;");
</script>
</body>
</html>
